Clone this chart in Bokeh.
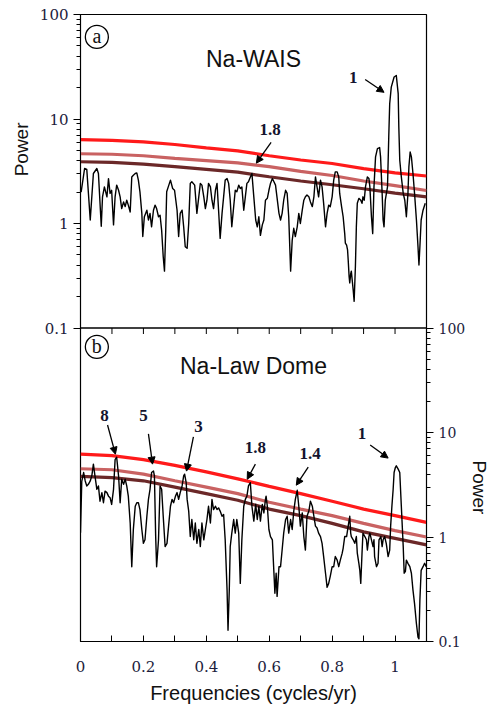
from bokeh.plotting import figure
from bokeh.models import (Range1d, FixedTicker, LogAxis, LogScale, CustomJSTickFormatter,
                          Arrow, NormalHead, Span, Title)
from bokeh.core.properties import value
from bokeh.embed import file_html
from bokeh.resources import INLINE

# ---------------- data ----------------
# panel (a) Na-WAIS spectrum
wais_freq = [
    0.002, 0.013, 0.020, 0.031, 0.041, 0.052, 0.057, 0.066, 0.070, 0.076,
    0.084, 0.089, 0.094, 0.099, 0.105, 0.110, 0.115, 0.121, 0.126, 0.131,
    0.137, 0.142, 0.147, 0.152, 0.158, 0.163, 0.168, 0.174, 0.179, 0.184,
    0.189, 0.195, 0.198, 0.203, 0.211, 0.216, 0.221, 0.226, 0.232, 0.237,
    0.242, 0.248, 0.253, 0.258, 0.263, 0.267, 0.271, 0.274, 0.279,
    0.286, 0.293, 0.299, 0.307, 0.312, 0.317, 0.323, 0.328, 0.333, 0.339,
    0.344, 0.349, 0.354, 0.363, 0.370, 0.376, 0.381, 0.386, 0.392, 0.397,
    0.402, 0.407, 0.413, 0.418, 0.423, 0.429, 0.434, 0.439, 0.444, 0.450,
    0.455, 0.460, 0.466, 0.471, 0.476, 0.481, 0.487, 0.492, 0.497, 0.503,
    0.508, 0.513, 0.519, 0.524, 0.529, 0.534, 0.540, 0.545,
    0.551, 0.557, 0.562, 0.567, 0.572, 0.578, 0.583, 0.588, 0.594, 0.599,
    0.604, 0.610, 0.615, 0.620, 0.631, 0.636, 0.641, 0.646, 0.652, 0.657,
    0.662, 0.668, 0.673, 0.678, 0.683, 0.689, 0.694, 0.699, 0.705, 0.710,
    0.715, 0.720, 0.726, 0.731, 0.737, 0.742, 0.747, 0.752, 0.757, 0.763,
    0.768, 0.773, 0.779, 0.784, 0.789, 0.794, 0.800, 0.805, 0.810, 0.816,
    0.821,
    0.824, 0.830, 0.835, 0.840, 0.842, 0.846, 0.849, 0.851, 0.854, 0.856,
    0.859, 0.861, 0.867, 0.870, 0.874, 0.877, 0.880, 0.885, 0.891, 0.895,
    0.898, 0.902, 0.906, 0.912, 0.917, 0.920, 0.925, 0.929, 0.933, 0.938,
    0.944, 0.951, 0.954, 0.959, 0.962, 0.965, 0.969, 0.976, 0.980, 0.983,
    0.988, 0.997, 1.004, 1.010, 1.012, 1.015, 1.020, 1.026, 1.031, 1.036,
    1.041, 1.044, 1.048, 1.052, 1.057, 1.062, 1.068, 1.073, 1.076, 1.079,
    1.083, 1.089, 1.096,
]
wais_power = [
    2.0, 3.36, 3.29, 1.08, 3.01, 3.36, 3.01, 0.94, 1.80, 2.24,
    1.80, 2.69, 1.94, 2.08, 0.97, 1.80, 2.33, 2.08, 1.80, 1.39,
    1.61, 1.45, 1.67, 1.50, 1.29, 2.79, 2.90, 3.01, 3.05, 2.60,
    2.01, 1.25, 0.75, 1.16, 1.34, 1.08, 1.25, 0.93, 1.34, 1.50,
    1.39, 1.16, 1.20, 0.86, 0.48, 0.35, 0.86, 2.01, 2.24,
    2.60, 2.16, 2.08, 1.34, 0.75, 1.25, 1.34, 0.93, 0.60, 0.58,
    1.00, 2.42, 2.51, 2.33, 1.25, 1.80, 2.42, 2.33, 1.80, 1.39,
    1.67, 2.42, 2.24, 1.67, 1.39, 2.08, 2.42, 1.34, 0.72, 1.25,
    1.80, 2.60, 2.69, 2.42, 1.67, 0.93, 1.45, 2.08, 2.01, 2.33,
    2.16, 2.24, 1.34, 1.80, 2.42, 2.51, 2.79, 3.01,
    1.80, 1.08, 0.93, 1.16, 0.77, 0.97, 1.08, 1.67, 1.74, 2.08,
    2.42, 2.69, 2.51, 2.33, 1.25, 1.08, 1.25, 1.67, 2.08, 1.94,
    1.16, 0.35, 0.69, 0.90, 0.75, 0.93, 1.25, 1.00, 1.34, 1.67,
    1.80, 1.87, 1.80, 1.61, 1.45, 1.80, 2.79, 2.24, 1.80, 2.60,
    2.24, 1.56, 0.93, 1.25, 1.50, 1.45, 1.80, 2.60, 3.12, 3.12,
    2.79,
    1.94, 1.45, 1.16, 0.80, 0.65, 0.62, 0.56, 0.45, 0.31, 0.27,
    0.33, 0.35, 0.23, 0.18, 0.39, 0.93, 1.56, 1.74, 1.67, 1.56,
    1.80, 1.67, 2.24, 2.79, 2.69, 2.24, 1.16, 0.80, 2.24, 4.34,
    5.21, 5.33, 4.34, 1.94, 1.08, 0.93, 1.67, 2.24, 6.73, 14.0,
    20.2, 25.2, 26.1, 17.5, 8.4, 4.03, 2.79, 1.94, 1.67, 1.16,
    1.94, 3.48, 4.84, 4.34, 3.01, 1.94, 1.08, 0.60, 0.40, 0.60,
    1.08, 1.34, 1.56,
]

# panel (b) Na-Law Dome spectrum
law_freq = [
    0.000, 0.004, 0.010, 0.015, 0.020, 0.025, 0.031, 0.036, 0.041, 0.046,
    0.052, 0.057, 0.062, 0.068, 0.073, 0.078, 0.084, 0.089, 0.094, 0.099,
    0.105, 0.110, 0.115, 0.121, 0.126, 0.131, 0.137, 0.142, 0.147, 0.152,
    0.158, 0.163, 0.168, 0.174, 0.179, 0.184, 0.189, 0.195, 0.200, 0.205,
    0.211, 0.216, 0.221, 0.226, 0.232, 0.235, 0.239, 0.242, 0.248, 0.253,
    0.258, 0.263, 0.269,
    0.275, 0.280, 0.286, 0.291, 0.296, 0.302, 0.307, 0.312, 0.317, 0.323,
    0.328, 0.331, 0.336, 0.339, 0.344, 0.349, 0.354, 0.360, 0.365, 0.370,
    0.376, 0.381, 0.386, 0.392, 0.397, 0.402, 0.407, 0.413, 0.418, 0.423,
    0.429, 0.434, 0.439, 0.444, 0.450, 0.455, 0.460, 0.466, 0.469, 0.473,
    0.476, 0.481, 0.487, 0.492, 0.497, 0.503, 0.508, 0.513, 0.519, 0.524,
    0.529, 0.534, 0.540, 0.545,
    0.551, 0.557, 0.562, 0.567, 0.572, 0.578, 0.583, 0.588, 0.590, 0.594,
    0.599, 0.604, 0.610, 0.615, 0.618, 0.622, 0.625, 0.631, 0.636, 0.641,
    0.646, 0.652, 0.657, 0.662, 0.668, 0.673, 0.678, 0.683, 0.689, 0.694,
    0.699, 0.705, 0.710, 0.715, 0.720, 0.726, 0.731, 0.737, 0.742, 0.747,
    0.752, 0.757, 0.763, 0.768, 0.773, 0.779, 0.784, 0.789, 0.794, 0.800,
    0.805, 0.810, 0.816, 0.821, 0.826, 0.832,
    0.835, 0.840, 0.846, 0.851, 0.856, 0.859, 0.861, 0.867, 0.872, 0.877,
    0.880, 0.885, 0.888, 0.891, 0.895, 0.898, 0.904, 0.909, 0.912, 0.917,
    0.920, 0.925, 0.930, 0.933, 0.935, 0.941, 0.946, 0.949, 0.955, 0.959,
    0.962, 0.967, 0.972, 0.978, 0.983, 0.986, 0.990, 0.994, 0.997, 1.001,
    1.004, 1.010, 1.015, 1.020, 1.026, 1.029, 1.033, 1.036, 1.041, 1.047,
    1.052, 1.057, 1.062, 1.068, 1.073, 1.076, 1.079, 1.083, 1.089, 1.094,
    1.099,
]
law_power = [
    1.10, 3.40, 4.14, 3.44, 3.08, 3.19, 3.44, 3.85, 4.98, 3.85,
    2.86, 3.08, 2.20, 2.66, 2.13, 2.75, 2.66, 2.46, 2.38, 2.05,
    2.86, 5.50, 5.80, 3.85, 2.13, 3.57, 3.19, 3.57, 3.08, 2.46,
    1.36, 0.52, 1.18, 1.97, 2.13, 2.13, 1.83, 1.18, 0.87, 0.94,
    1.58, 2.29, 2.86, 4.14, 4.29, 3.85, 1.01, 0.52, 0.94, 3.08,
    2.86, 1.58, 0.81,
    0.87, 1.27, 1.97, 2.29, 2.13, 2.46, 2.66, 2.29, 2.66, 3.08,
    3.85, 3.99, 3.31, 2.29, 1.77, 1.01, 1.47, 0.94, 1.36, 0.87,
    1.18, 0.81, 1.36, 0.94, 1.18, 1.47, 1.97, 1.36, 2.29, 1.83,
    1.97, 1.83, 1.90, 1.77, 1.58, 1.64, 0.94, 0.31, 0.128, 0.31,
    0.81, 1.09, 1.47, 1.09, 1.47, 1.09, 0.36, 0.94, 1.97, 2.29,
    2.46, 3.08, 3.31, 1.97,
    1.42, 2.05, 1.47, 1.97, 1.42, 2.05, 1.70, 2.29, 2.46, 1.97,
    1.18, 1.01, 0.94, 0.45, 0.29, 0.45, 0.27, 0.52, 0.52, 0.75,
    1.09, 1.47, 1.58, 1.09, 1.47, 1.18, 1.77, 2.29, 2.80, 1.97,
    1.27, 1.70, 1.01, 0.75, 1.58, 1.77, 2.20, 1.97, 1.58, 1.27,
    1.22, 1.09, 1.01, 0.87, 0.65, 0.45, 0.33, 0.36, 0.42, 0.52,
    0.52, 0.65, 0.60, 0.52, 0.60, 0.70,
    0.78, 1.01, 1.01, 1.27, 1.58, 1.09, 1.01, 0.94, 0.87, 1.01,
    0.70, 0.56, 0.48, 0.36, 0.70, 1.09, 1.01, 0.94, 0.75, 1.01,
    1.09, 0.94, 0.81, 0.94, 0.65, 0.52, 0.56, 0.94, 1.01, 0.81,
    0.94, 1.01, 0.87, 0.65, 0.75, 1.27, 1.97, 2.86, 4.14, 4.62,
    4.80, 4.46, 4.14, 1.97, 0.81, 0.45, 0.47, 0.60, 0.56, 0.52,
    0.45, 0.31, 0.23, 0.148, 0.110, 0.106, 0.25, 0.48, 0.52, 0.56,
    0.52,
]

# significance levels (red-noise confidence curves)
level_freq = [0.0, 0.1, 0.2, 0.3, 0.4, 0.5, 0.6, 0.7, 0.8, 0.9, 1.0, 1.1]
wais_level_a = [6.35, 6.25, 6.05, 5.70, 5.30, 4.95, 4.45, 4.05, 3.75, 3.35, 3.05, 2.85]
wais_level_b = [4.65, 4.60, 4.45, 4.20, 4.00, 3.80, 3.50, 3.15, 2.88, 2.55, 2.30, 2.07]
wais_level_c = [3.90, 3.85, 3.70, 3.50, 3.30, 3.10, 2.80, 2.55, 2.35, 2.15, 1.95, 1.80]
law_level_a = [6.20, 6.00, 5.50, 4.85, 4.20, 3.60, 3.05, 2.60, 2.20, 1.85, 1.60, 1.38]
law_level_b = [4.50, 4.40, 4.00, 3.45, 3.00, 2.60, 2.15, 1.85, 1.60, 1.35, 1.15, 1.00]
law_level_c = [3.80, 3.70, 3.45, 3.00, 2.60, 2.25, 1.85, 1.60, 1.35, 1.12, 0.97, 0.84]
level_colors = ["#ff1a1a", "#c96262", "#6b2828"]

# axis ticks
power_ticks = [0.1, 1, 10, 100]
freq_ticks = [0.0, 0.2, 0.4, 0.6, 0.8, 1.0]
freq_minor = [0.1, 0.3, 0.5, 0.7, 0.9, 1.1]

# annotations (period labels, years)
wais_lab = ["1", "1.8"]
wais_lab_x = [0.867, 0.603]
wais_lab_y = [25.0, 7.98]
wais_arr_x0 = [0.905, 0.606]
wais_arr_y0 = [23.9, 5.98]
wais_arr_x1 = [0.965, 0.559]
wais_arr_y1 = [18.0, 3.78]

law_lab = ["8", "5", "3", "1.8", "1.4", "1"]
law_lab_x = [0.076, 0.200, 0.375, 0.556, 0.730, 0.895]
law_lab_y = [14.5, 14.5, 11.3, 7.26, 6.35, 9.7]
law_arr_x0 = [0.086, 0.216, 0.359, 0.556, 0.724, 0.921]
law_arr_y0 = [11.8, 9.7, 9.1, 4.98, 4.66, 7.58]
law_arr_x1 = [0.111, 0.229, 0.337, 0.530, 0.686, 0.978]
law_arr_y1 = [6.2, 4.98, 4.27, 3.57, 3.13, 5.69]

panel_letters = ["a", "b"]
letter_x = 0.052
letter_y = [61.0, 66.0]
titles = ["Na-WAIS", "Na-Law Dome"]
title_x = 0.55
title_y = [37.2, 43.0]
ylabel_text = "Power"

TICK_COLOR = "#1c1c3c"
SERIF = "DejaVu Serif"

# ---------------- figure: two stacked log panels in one frame ----------------
FRAME_H = 627
DECADES = 6
p = figure(frame_width=346, frame_height=FRAME_H,
           x_range=Range1d(0, 1.1), y_range=Range1d(1e-4, 100),
           y_axis_type="log", x_axis_location="below", y_axis_location="left",
           min_border_left=80, min_border_right=63,
           min_border_top=14, min_border_bottom=67,
           output_backend="svg", toolbar_location=None)
p.extra_y_ranges = {"bot": Range1d(0.1, 1e5)}
p.extra_y_scales = {"bot": LogScale()}
p.grid.visible = False
p.outline_line_color = "black"
p.outline_line_width = 1.2
p.background_fill_color = "white"
p.border_fill_color = "white"

minor_power = [m * 10.0 ** e for e in (-1, 0, 1) for m in range(2, 10)]


def style_power_axis(ax, size):
    ax.ticker = FixedTicker(ticks=power_ticks, minor_ticks=minor_power)
    ax.formatter = CustomJSTickFormatter(code="return tick.toString();")
    ax.bounds = (0.1, 100)
    ax.major_tick_out = 7
    ax.major_tick_in = 0
    ax.minor_tick_out = 4
    ax.minor_tick_in = 0
    ax.axis_line_color = "black"
    ax.major_tick_line_color = "black"
    ax.minor_tick_line_color = "black"
    ax.major_label_text_font = SERIF
    ax.major_label_text_font_size = size
    ax.major_label_text_color = TICK_COLOR


left = p.yaxis[0]
style_power_axis(left, "15px")
left.major_label_standoff = 5

right = LogAxis(y_range_name="bot")
style_power_axis(right, "14px")
right.major_label_standoff = 5
p.add_layout(right, "right")

xa = p.xaxis[0]
xa.ticker = FixedTicker(ticks=freq_ticks, minor_ticks=freq_minor)
xa.formatter = CustomJSTickFormatter(code="return Number(tick.toFixed(1)).toString();")
xa.major_tick_in = 6
xa.major_tick_out = 0
xa.minor_tick_in = 6
xa.minor_tick_out = 0
xa.axis_line_color = "black"
xa.major_label_text_font = SERIF
xa.major_label_text_font_size = "15px"
xa.major_label_text_color = TICK_COLOR
xa.major_label_standoff = 19
xa.axis_label = "Frequencies (cycles/yr)"
xa.axis_label_text_font = "Liberation Sans"
xa.axis_label_text_font_size = "20px"
xa.axis_label_text_font_style = "normal"
xa.axis_label_text_color = "#111111"
xa.axis_label_standoff = 7

# "Power" titles, each placed beside its own panel (left of (a), right of (b))
p.add_layout(Title(text=ylabel_text, align="right", offset=108, standoff=9,
                   text_font="Liberation Sans", text_font_size="19px",
                   text_font_style="normal", text_color="#111111"), "left")
p.add_layout(Title(text=ylabel_text, align="left", offset=446, standoff=1,
                   text_font="Liberation Sans", text_font_size="19px",
                   text_font_style="normal", text_color="#111111"), "right")

# divider between the panels, with inward ticks on the lower panel's top edge
p.add_layout(Span(location=0.1, dimension="width", line_color="black", line_width=1.6))
mid_ticks = sorted(freq_ticks + freq_minor)
tick_drop = 10 ** (-6.0 * DECADES / FRAME_H)
p.segment(x0=mid_ticks, y0=[0.1] * len(mid_ticks), x1=mid_ticks,
          y1=[0.1 * tick_drop] * len(mid_ticks), line_color="black", line_width=1)

# ---------------- glyphs ----------------
panels = [
    ("default", wais_freq, wais_power, [wais_level_a, wais_level_b, wais_level_c],
     wais_lab, wais_lab_x, wais_lab_y,
     wais_arr_x0, wais_arr_y0, wais_arr_x1, wais_arr_y1, 0),
    ("bot", law_freq, law_power, [law_level_a, law_level_b, law_level_c],
     law_lab, law_lab_x, law_lab_y,
     law_arr_x0, law_arr_y0, law_arr_x1, law_arr_y1, 1),
]

for (rn, fr, pw, levels, labs, lx, ly, ax0, ay0, ax1, ay1, i) in panels:
    for lev, col in zip(levels[::-1], level_colors[::-1]):
        p.line(level_freq, lev, line_color=col, line_width=3.2, y_range_name=rn)
    p.line(fr, pw, line_color="black", line_width=1.4, line_join="round",
           y_range_name=rn)

    p.text(x=lx, y=ly, text=labs, text_font=value("Liberation Serif"),
           text_font_style="bold", text_font_size="17px", text_color="#14142e",
           text_align="center", text_baseline="middle", y_range_name=rn)
    for x0, y0, x1, y1 in zip(ax0, ay0, ax1, ay1):
        p.add_layout(Arrow(x_start=x0, y_start=y0, x_end=x1, y_end=y1,
                           line_color="black", line_width=1.3, y_range_name=rn,
                           end=NormalHead(size=7, fill_color="black",
                                          line_color="black")))

    p.text(x=[title_x], y=[title_y[i]], text=[titles[i]],
           text_font=value("Liberation Sans"), text_font_size="23px",
           text_color="#111111", text_align="center", text_baseline="middle",
           y_range_name=rn)

    p.scatter(x=[letter_x], y=[letter_y[i]], marker="circle", size=23,
              fill_alpha=0, line_color="black", line_width=1.3, y_range_name=rn)
    p.text(x=[letter_x], y=[letter_y[i]], text=[panel_letters[i]],
           text_font=value("Liberation Serif"), text_font_size="20px",
           text_color="#111111", text_align="center", text_baseline="middle",
           y_offset=-1, y_range_name=rn)

open("out.html", "w").write(file_html(p, INLINE))
